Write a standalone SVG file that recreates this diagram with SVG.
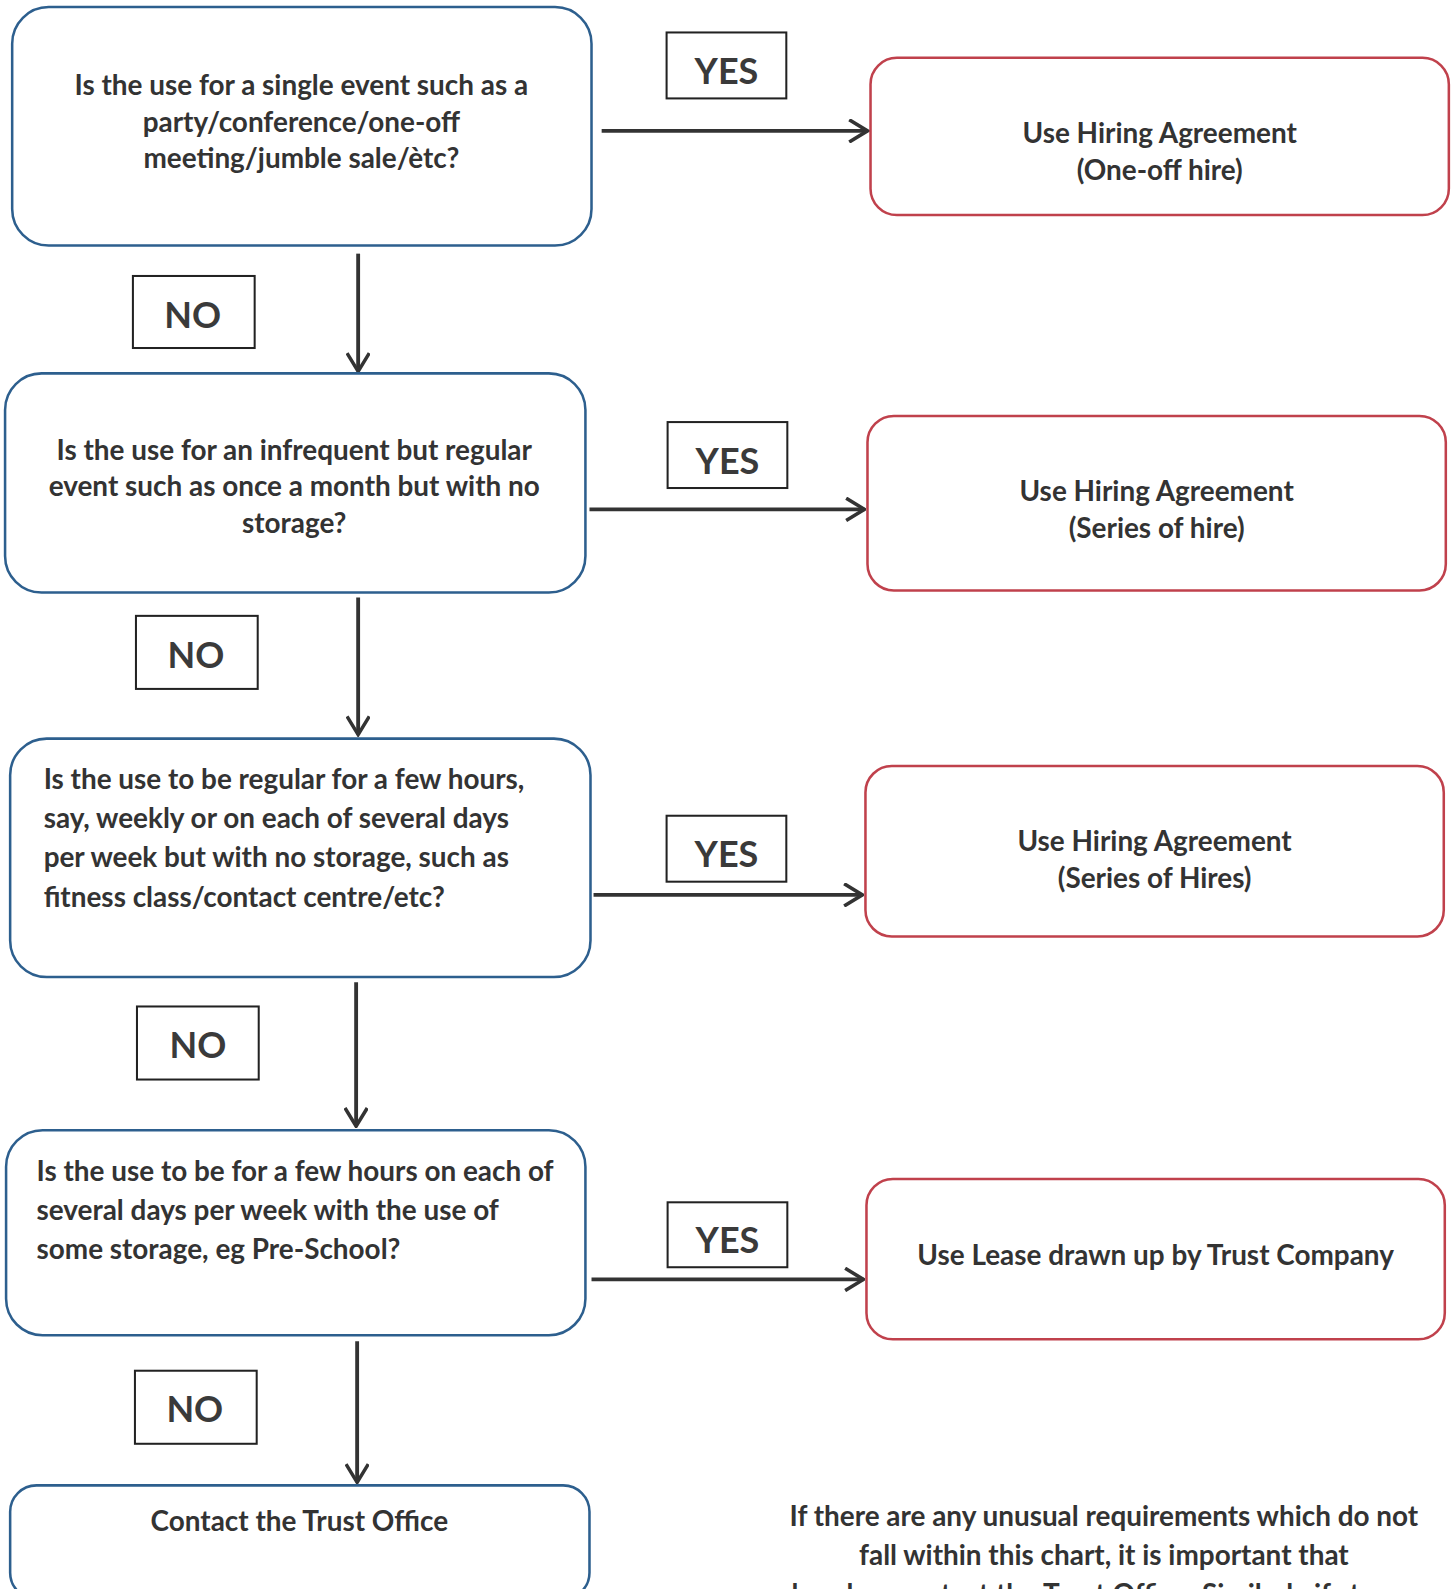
<svg xmlns="http://www.w3.org/2000/svg" width="1455" height="1589" viewBox="0 0 1455 1589">
<style>
.q{fill:#fff;stroke:#2d5f8e;stroke-width:2.5}
.r{fill:#fff;stroke:#c0414c;stroke-width:2.5}
.lb{fill:#fff;stroke:#222;stroke-width:2}
text{font-family:Lato,"Liberation Sans",sans-serif;font-weight:bold;fill:#333}
.t{font-size:27.5px}
.c{text-anchor:middle}
.big{font-size:35.5px;text-anchor:middle;fill:#3a3a3a}
.con{stroke:#333;stroke-width:3.8;fill:none}
</style>
<defs>
<marker id="ah" viewBox="-20 -12 22 24" refX="0" refY="0" markerWidth="22" markerHeight="24" markerUnits="userSpaceOnUse" orient="auto">
<path d="M-18,-11 L0,0 L-18,11" fill="none" stroke="#333" stroke-width="3.5"/>
</marker>
</defs>
<rect width="1455" height="1589" fill="#fff"/>
<g transform="scale(1.0146)">
<g id="connectors">
<line class="con" x1="593" y1="129" x2="855" y2="129" marker-end="url(#ah)"/>
<line class="con" x1="353" y1="250" x2="353" y2="366" marker-end="url(#ah)"/>
<line class="con" x1="581" y1="502" x2="852" y2="502" marker-end="url(#ah)"/>
<line class="con" x1="353" y1="589" x2="353" y2="724" marker-end="url(#ah)"/>
<line class="con" x1="585" y1="882" x2="850" y2="882" marker-end="url(#ah)"/>
<line class="con" x1="351" y1="968" x2="351" y2="1110" marker-end="url(#ah)"/>
<line class="con" x1="583" y1="1261" x2="851" y2="1261" marker-end="url(#ah)"/>
<line class="con" x1="352" y1="1322" x2="352" y2="1461" marker-end="url(#ah)"/>
</g>
<g id="q1">
<rect class="q" x="12" y="7" width="571" height="235" rx="36"/>
<text class="t c" x="297" y="94">Is the use for a single event such as a</text>
<text class="t c" x="297" y="130">party/conference/one-off</text>
<text class="t c" x="297" y="166">meeting/jumble sale/ètc?</text>
</g>
<g id="yes1"><rect class="lb" x="657" y="32" width="118" height="65"/><text class="big" x="716" y="83">YES</text></g>
<g id="a1">
<rect class="r" x="858" y="57" width="570" height="155" rx="26"/>
<text class="t c" x="1143" y="141">Use Hiring Agreement</text>
<text class="t c" x="1143" y="177">(One-off hire)</text>
</g>
<g id="no1"><rect class="lb" x="131" y="272" width="120" height="71"/><text class="big" x="190" y="323">NO</text></g>
<g id="q2">
<rect class="q" x="5" y="368" width="572" height="216" rx="36"/>
<text class="t c" x="290" y="453">Is the use for an infrequent but regular</text>
<text class="t c" x="290" y="489">event such as once a month but with no</text>
<text class="t c" x="290" y="525">storage?</text>
</g>
<g id="yes2"><rect class="lb" x="658" y="416" width="118" height="65"/><text class="big" x="717" y="467">YES</text></g>
<g id="a2">
<rect class="r" x="855" y="410" width="570" height="172" rx="26"/>
<text class="t c" x="1140" y="494">Use Hiring Agreement</text>
<text class="t c" x="1140" y="530">(Series of hire)</text>
</g>
<g id="no2"><rect class="lb" x="134" y="607" width="120" height="72"/><text class="big" x="193" y="658">NO</text></g>
<g id="q3">
<rect class="q" x="10" y="728" width="572" height="235" rx="36"/>
<text class="t" x="43" y="778">Is the use to be regular for a few hours,</text>
<text class="t" x="43" y="816">say, weekly or on each of several days</text>
<text class="t" x="43" y="855">per week but with no storage, such as</text>
<text class="t" x="43" y="894">fitness class/contact centre/etc?</text>
</g>
<g id="yes3"><rect class="lb" x="657" y="804" width="118" height="65"/><text class="big" x="716" y="855">YES</text></g>
<g id="a3">
<rect class="r" x="853" y="755" width="570" height="168" rx="26"/>
<text class="t c" x="1138" y="839">Use Hiring Agreement</text>
<text class="t c" x="1138" y="875">(Series of Hires)</text>
</g>
<g id="no3"><rect class="lb" x="135" y="992" width="120" height="72"/><text class="big" x="195" y="1043">NO</text></g>
<g id="q4">
<rect class="q" x="6" y="1114" width="571" height="202" rx="36"/>
<text class="t" x="36" y="1164">Is the use to be for a few hours on each of</text>
<text class="t" x="36" y="1202">several days per week with the use of</text>
<text class="t" x="36" y="1241">some storage, eg Pre-School?</text>
</g>
<g id="yes4"><rect class="lb" x="658" y="1185" width="118" height="64"/><text class="big" x="717" y="1235">YES</text></g>
<g id="a4">
<rect class="r" x="854" y="1162" width="570" height="158" rx="26"/>
<text class="t c" x="1139" y="1247">Use Lease drawn up by Trust Company</text>
</g>
<g id="no4"><rect class="lb" x="133" y="1351" width="120" height="72"/><text class="big" x="192" y="1402">NO</text></g>
<g id="end">
<rect class="q" x="10" y="1464" width="571" height="112" rx="26"/>
<text class="t c" x="295" y="1509">Contact the Trust Office</text>
</g>
<g id="note">
<text class="t c" x="1088" y="1504">If there are any unusual requirements which do not</text>
<text class="t c" x="1088" y="1542">fall within this chart, it is important that</text>
<text class="t c" x="1088" y="1581">churches contact the Trust Office. Similarly if storage</text>
</g>
</g>
</svg>
